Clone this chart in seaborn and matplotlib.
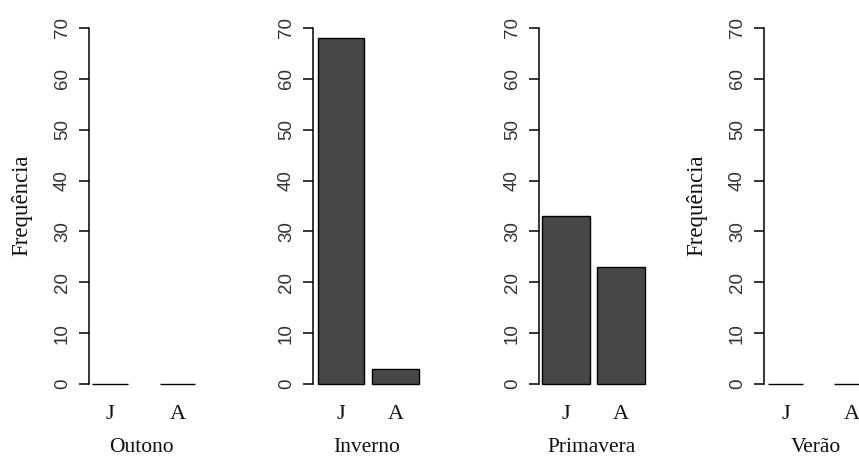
import matplotlib
matplotlib.use("Agg")
import matplotlib.pyplot as plt
import seaborn as sns
import pandas as pd

# ---- data ----
seasons = ["Outono", "Inverno", "Primavera", "Verão"]
categories = ["J", "A"]
outono = [0, 0]
inverno = [68, 3]
primavera = [33, 23]
verao = [0, 0]
yticks = [0, 10, 20, 30, 40, 50, 60, 70]
ylabel_text = "Frequência"

series = [outono, inverno, primavera, verao]
show_ylabel = [True, False, False, True]

sns.set_theme(style="white")
plt.rcParams["font.family"] = ["Liberation Serif", "DejaVu Serif"]

W, H = 859, 459
fig = plt.figure(figsize=(W / 100, H / 100), dpi=100)

# layout (pixels)
axis_left_px = [89, 313, 539, 764]
first_center_off = [21, 28, 27, 21.5]
px_per_unit = [67.5, 54.5, 55.0, 66.0]
bar_width = [0.53, 0.845, 0.855, 0.52]
ax_w_px = 190
ylo, yhi = -2.8, 72.8
bottom_px, top_px = 398.2, 13.76

bar_color = "#484848"
sans = ["Liberation Sans", "DejaVu Sans"]
serif = ["Liberation Serif", "DejaVu Serif"]
xlabel_cx = [141, 367, 592, 816]

for i, (season, vals) in enumerate(zip(seasons, series)):
    left = axis_left_px[i] / W
    ax = fig.add_axes([left, (H - bottom_px) / H, ax_w_px / W, (bottom_px - top_px) / H])
    df = pd.DataFrame({"cat": categories, "val": vals})
    sns.barplot(data=df, x="cat", y="val", order=categories, ax=ax,
                color=bar_color, saturation=1, edgecolor="black",
                linewidth=1.0, width=bar_width[i])
    for p in ax.patches:
        p.set_clip_on(False)
    x0 = -first_center_off[i] / px_per_unit[i]
    ax.set_xlim(x0, x0 + ax_w_px / px_per_unit[i])
    ax.set_ylim(ylo, yhi)
    for s in ["top", "right", "bottom"]:
        ax.spines[s].set_visible(False)
    ax.spines["left"].set_bounds(0, 70)
    ax.spines["left"].set_color("black")
    ax.spines["left"].set_linewidth(1.1)
    ax.set_yticks(yticks)
    ax.set_yticklabels([str(t) for t in yticks], rotation=90, va="center",
                       family=sans, fontsize=13.5, color="#333333")
    ax.tick_params(axis="y", direction="out", length=7, width=1.1,
                   color="black", pad=6, left=True)
    ax.tick_params(axis="x", length=0, pad=5)
    ax.set_xticks(range(len(categories)))
    ax.set_xticklabels(categories, family=serif, fontsize=16, color="#111111")
    ax.set_xlabel(season, family=serif, fontsize=15.5, color="#111111")
    ax.xaxis.set_label_coords((xlabel_cx[i] - axis_left_px[i]) / ax_w_px,
                              (bottom_px - 447.5) / (bottom_px - top_px))
    ax.xaxis.label.set_va("center")
    if show_ylabel[i]:
        ax.set_ylabel(ylabel_text, family=serif, fontsize=16.5, color="#111111")
        ax.yaxis.set_label_coords(-67 / ax_w_px, (bottom_px - 205) / (bottom_px - top_px))
        ax.yaxis.label.set_va("center")
    else:
        ax.set_ylabel("")
    ax.set_facecolor("white")
    ax.grid(False)

fig.savefig("out.png", dpi=100, facecolor="white")
